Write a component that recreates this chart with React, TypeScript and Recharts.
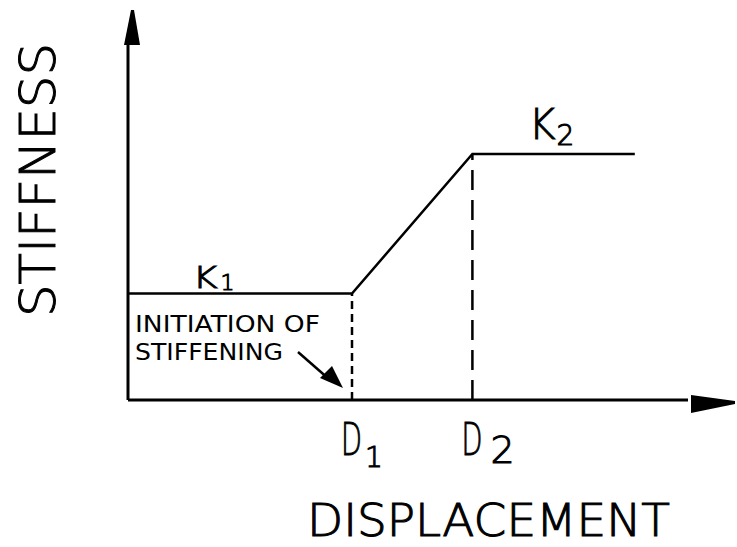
import {
	Line,
	LineChart,
	ReferenceDot,
	ReferenceLine,
	XAxis,
	YAxis,
} from 'recharts'

// displacement / stiffness break points of the curve
const displacement = [0, 40, 61.5, 90.5]
const stiffness = [30, 30, 69.3, 69.3]

// marks on the displacement axis and their subscripts
const dTicks = [40, 61.5]
const dSubs = ['1', '2']

const stiffLabels = [
	{ x: 11.5, y: 30, main: 'K', sub: '1' },
	{ x: 71.5, y: 69.3, main: 'K', sub: '2' },
]

const noteLines = ['INITIATION OF', 'STIFFENING']
const xTitle = 'DISPLACEMENT'
const yTitle = 'STIFFNESS'

const data = displacement.map((d, i) => ({ d, k: stiffness[i] }))

const FONT = '"DejaVu Sans", sans-serif'
const INK = '#000'
// thin lettering, slightly thickened by an outline
const LETTER = { fontFamily: FONT, fontWeight: 200, fill: INK, stroke: INK, strokeWidth: 1 }

const XArrow = ({ cx, cy }: any) => (
	<polygon
		fill={INK}
		points={`${cx + 3},${cy - 5} ${cx + 47},${cy + 1} ${cx + 47},${cy + 4} ${cx + 3},${cy + 13}`}
	/>
)

const YArrow = ({ cx, cy }: any) => (
	<polygon
		fill={INK}
		points={`${cx - 4},${cy} ${cx + 12},${cy} ${cx + 6},${cy - 35} ${cx + 3},${cy - 35}`}
	/>
)

const DMark = ({ cx, cy, sub }: any) => {
	const first = sub === '1'
	return (
		<text {...LETTER} x={cx - 11} y={cy + 55}>
			<tspan fontSize={45} textLength={21} lengthAdjust="spacingAndGlyphs">
				D
			</tspan>
			<tspan fontSize={first ? 28 : 38} dx={first ? 3 : 8} dy={first ? 12 : 8}>
				{sub}
			</tspan>
		</text>
	)
}

const KLabel = ({ cx, cy, main, sub }: any) => {
	const first = sub === '1'
	return (
		<text {...LETTER} x={cx} y={first ? cy - 6 : cy - 15}>
			<tspan
				fontSize={first ? 30 : 42}
				textLength={first ? 25 : 27}
				lengthAdjust="spacingAndGlyphs"
			>
				{main}
			</tspan>
			<tspan fontSize={first ? 22 : 28} dx={first ? 3 : 1} dy={first ? 2 : 6}>
				{sub}
			</tspan>
		</text>
	)
}

const Note = ({ cx, cy }: any) => (
	<g>
		<g fontFamily={FONT} fill={INK} fontSize={23}>
			<text x={cx - 217} y={cy - 68} textLength={185} lengthAdjust="spacingAndGlyphs">
				{noteLines[0]}
			</text>
			<text x={cx - 217} y={cy - 40} textLength={148} lengthAdjust="spacingAndGlyphs">
				{noteLines[1]}
			</text>
		</g>
		<line x1={cx - 54} y1={cy - 48} x2={cx - 22} y2={cy - 20} stroke={INK} strokeWidth={2.5} />
		<polygon
			fill={INK}
			points={`${cx - 9},${cy - 12} ${cx - 32},${cy - 22} ${cx - 20},${cy - 34}`}
		/>
	</g>
)

const XTitle = ({ cx, cy }: any) => (
	<text
		{...LETTER}
		x={cx + 179}
		y={cy + 136}
		fontSize={45}
		textLength={363}
		lengthAdjust="spacingAndGlyphs"
	>
		{xTitle}
	</text>
)

const YTitle = ({ cx, cy }: any) => (
	<text
		{...LETTER}
		x={cx - 73}
		y={cy + 272}
		transform={`rotate(-90, ${cx - 73}, ${cy + 272})`}
		fontSize={50}
		textLength={274}
		lengthAdjust="spacingAndGlyphs"
	>
		{yTitle}
	</text>
)

export default function App() {
	return (
		<div style={{ position: 'absolute', left: 0, top: 0, background: '#fff' }}>
			<LineChart
				width={737}
				height={547}
				data={data}
				margin={{ top: 45, right: 49, bottom: 147, left: 128 }}
			>
				<XAxis dataKey="d" type="number" domain={[0, 100]} hide />
				<YAxis type="number" domain={[0, 100]} hide />
				{/* axes */}
				<ReferenceLine
					segment={[
						{ x: 0, y: 0 },
						{ x: 100, y: 0 },
					]}
					stroke={INK}
					strokeWidth={3}
					ifOverflow="visible"
				/>
				<ReferenceLine
					segment={[
						{ x: 0, y: 0 },
						{ x: 0, y: 100 },
					]}
					stroke={INK}
					strokeWidth={3}
					ifOverflow="visible"
				/>
				<ReferenceLine
					segment={[
						{ x: dTicks[0], y: 0 },
						{ x: dTicks[0], y: stiffness[1] },
					]}
					stroke={INK}
					strokeWidth={2.5}
					strokeDasharray="8 5"
				/>
				<ReferenceLine
					segment={[
						{ x: dTicks[1], y: 0 },
						{ x: dTicks[1], y: stiffness[2] },
					]}
					stroke={INK}
					strokeWidth={2.5}
					strokeDasharray="20 10"
				/>
				<Line
					dataKey="k"
					type="linear"
					stroke={INK}
					strokeWidth={2.5}
					dot={false}
					isAnimationActive={false}
				/>
				{stiffLabels.map((l) => (
					<ReferenceDot
						key={'k' + l.sub}
						x={l.x}
						y={l.y}
						r={0}
						ifOverflow="visible"
						shape={(p: any) => <KLabel {...p} main={l.main} sub={l.sub} />}
					/>
				))}
				{dTicks.map((t, i) => (
					<ReferenceDot
						key={'d' + i}
						x={t}
						y={0}
						r={0}
						ifOverflow="visible"
						shape={(p: any) => <DMark {...p} sub={dSubs[i]} />}
					/>
				))}
				<ReferenceDot
					x={dTicks[0]}
					y={0}
					r={0}
					ifOverflow="visible"
					shape={(p: any) => <Note {...p} />}
				/>
				<ReferenceDot x={0} y={0} r={0} ifOverflow="visible" shape={(p: any) => <XTitle {...p} />} />
				<ReferenceDot x={0} y={100} r={0} ifOverflow="visible" shape={(p: any) => <YTitle {...p} />} />
				<ReferenceDot x={100} y={0} r={0} ifOverflow="visible" shape={(p: any) => <XArrow {...p} />} />
				<ReferenceDot x={0} y={100} r={0} ifOverflow="visible" shape={(p: any) => <YArrow {...p} />} />
			</LineChart>
		</div>
	)
}
